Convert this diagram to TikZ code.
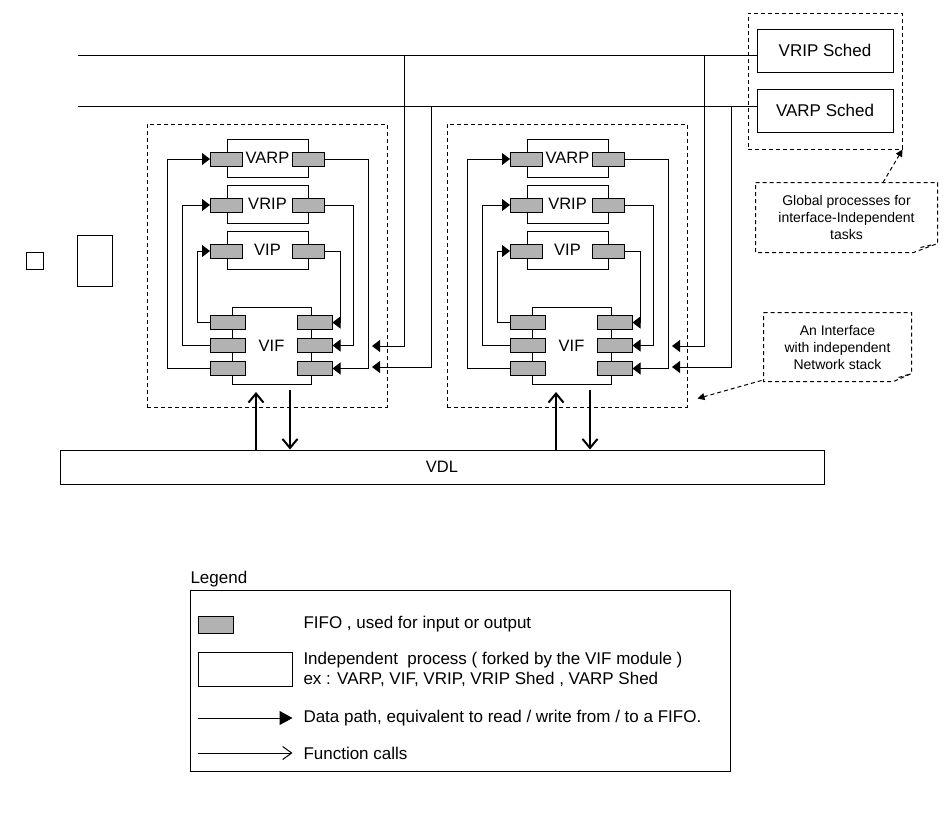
\documentclass[tikz,border=0pt]{standalone}
\usepackage{fontspec}
\setmainfont{Liberation Sans}
\usetikzlibrary{arrows.meta, positioning, calc}

\begin{document}
\begin{tikzpicture}[x=1pt, y=-1pt, line width=1pt,
  every node/.style={font=\fontsize{16.5}{19}\selectfont},
  proc/.style={draw, fill=white, inner sep=0pt},
  fifo/.style={draw, fill=gray!60, minimum width=32pt, minimum height=14pt, inner sep=0pt},
  dbox/.style={draw, dash pattern=on 4pt off 3pt, inner sep=0pt},
  dline/.style={dash pattern=on 4pt off 3pt},
  note/.style={font=\fontsize{14}{17}\selectfont, align=center, inner sep=0pt},
  legtext/.style={anchor=west, inner sep=0pt, align=left, font=\fontsize{17}{20}\selectfont},
  data/.style={-{Triangle[length=8pt,width=12pt]}},
  call/.style={-{Straight Barb[length=9pt,width=15pt]}, line width=2pt}]
\useasboundingbox (0,0) rectangle (949,838);
\node[proc, minimum width=764pt, minimum height=34pt] (vdl) at (442,467) {VDL};
\node[dbox, minimum width=154pt, minimum height=136pt] (sched) at (825,81) {};
\node[proc, minimum width=136pt, minimum height=43pt, font=\fontsize{17}{20}\selectfont] (vripsch) at (825,50.5) {VRIP Sched};
\node[proc, minimum width=136pt, minimum height=43pt, font=\fontsize{17}{20}\selectfont] (varpsch) at (825,110.5) {VARP Sched};
\coordinate (bus1) at (78,55);
\coordinate (bus2) at (78,106);
\draw (bus1) -- (bus1 -| vripsch.west);
\draw (bus2) -- (bus2 -| varpsch.west);
\foreach \i/\dx in {A/0, B/300} {
  \node[dbox, minimum width=240pt, minimum height=283pt] (if\i) at (267+\dx,265.5) {};
  \node[proc, minimum width=81pt, minimum height=38pt] (varp\i) at (267.5+\dx,158) {VARP};
  \node[proc, minimum width=81pt, minimum height=38pt] (vrip\i) at (267.5+\dx,204) {VRIP};
  \node[proc, minimum width=81pt, minimum height=38pt] (vip\i) at (267.5+\dx,250) {VIP};
  \node[proc, minimum width=79pt, minimum height=77pt] (vif\i) at (271.5+\dx,345.5) {VIF};
  \foreach \p in {varp, vrip, vip} {
    \node[fifo] (\p-in\i) at ($(\p\i.west)+(0,1)$) {};
    \node[fifo] (\p-out\i) at ($(\p\i.east)+(0,1)$) {};
  }
  \foreach \r/\dy in {1/-23, 2/0, 3/23} {
    \node[fifo, minimum width=35pt] (vifl\r\i) at ($(vif\i.west)+(-3.5,\dy)$) {};
    \node[fifo, minimum width=35pt] (vifr\r\i) at ($(vif\i.east)+(3,\dy)$) {};
  }
  \draw[data] (vifl3\i.west) -- ++(-43,0) |- (varp-in\i.west);
  \draw[data] (vifl2\i.west) -- ++(-28,0) |- (vrip-in\i.west);
  \draw[data] (vifl1\i.west) -- ++(-13,0) |- (vip-in\i.west);
  \draw[data] (varp-out\i.east) -- ++(43,0) |- (vifr3\i.east);
  \draw[data] (vrip-out\i.east) -- ++(28,0) |- (vifr2\i.east);
  \draw[data] (vip-out\i.east) -- ++(15,0) |- (vifr1\i.east);
  \coordinate (tap1\i) at (404+\dx,55);
  \coordinate (tap2\i) at (431+\dx,106);
  \coordinate (call1\i) at (372+\dx,346);
  \coordinate (call2\i) at (372+\dx,367);
  \draw[data] (tap1\i) |- (call1\i);
  \draw[data] (tap2\i) |- (call2\i);
  \coordinate (up\i) at (256+\dx,392);
  \coordinate (dn\i) at (290+\dx,390);
  \draw[call] (up\i |- vdl.north) -- (up\i);
  \draw[call] (dn\i) -- (dn\i |- vdl.north);
}
\node[draw, minimum size=17pt, inner sep=0pt] (sq) at (34.5,260.5) {};
\node[draw, minimum width=35pt, minimum height=51pt, inner sep=0pt] (rect) at (94.5,260.5) {};
\node[note, minimum width=181pt, minimum height=69pt] (glob) at (846.5,217.5) {Global processes for\\interface-Independent\\tasks};
\draw[dline] (glob.north west) -- (glob.north east) -- ([yshift=9pt]glob.south east) -- ([xshift=-24pt]glob.south east) -- (glob.south west) -- cycle;
\draw[dline] ([xshift=-17pt,yshift=5pt]glob.south east) -- ([xshift=-4pt,yshift=8pt]glob.south east);
\draw[dline, -{Triangle[length=7pt,width=7pt]}] ([xshift=36.5pt]glob.north) -- (sched.south east);
\node[note, minimum width=147pt, minimum height=68pt] (ifnote) at (837.5,347) {An Interface\\with independent\\Network stack};
\draw[dline] (ifnote.north west) -- (ifnote.north east) -- ([yshift=8pt]ifnote.south east) -- ([xshift=-18pt]ifnote.south east) -- (ifnote.south west) -- cycle;
\draw[dline] ([xshift=-13pt,yshift=4pt]ifnote.south east) -- ([xshift=-3pt,yshift=7pt]ifnote.south east);
\draw[dline, -{Triangle[length=7pt,width=7pt]}] ([xshift=-2pt,yshift=1pt]ifnote.south west) -- ([xshift=10pt,yshift=9pt]ifB.south east);
\node[anchor=base west, inner sep=0pt, font=\fontsize{17}{20}\selectfont] (legtitle) at (190,583) {Legend};
\node[draw, minimum width=540pt, minimum height=181pt, inner sep=0pt] (legend) at (460,680.5) {};
\node[fifo, minimum width=35pt, minimum height=17pt] (legfifo) at (215.5,624.5) {};
\node[proc, minimum width=94pt, minimum height=34pt] (legproc) at (245,669) {};
\node[legtext] (legfifotxt) at (303,624.5) {FIFO , used for input or output};
\node[legtext] (legproctxt) at (303,669) {Independent~ process ( forked by the VIF module )\\ex : VARP, VIF, VRIP, VRIP Shed , VARP Shed};
\coordinate (legd) at (198,718);
\coordinate (legc) at (198,753);
\node[legtext] (legdatatxt) at (303,718) {Data path, equivalent to read / write from / to a FIFO.};
\node[legtext] (legcalltxt) at (303,753) {Function calls};
\draw[-{Triangle[length=13pt,width=14pt]}] (legd) -- (legd -| legproc.east);
\draw[-{Straight Barb[length=9pt,width=13pt]}] (legc) -- (legc -| legproc.east);
\end{tikzpicture}
\end{document}
